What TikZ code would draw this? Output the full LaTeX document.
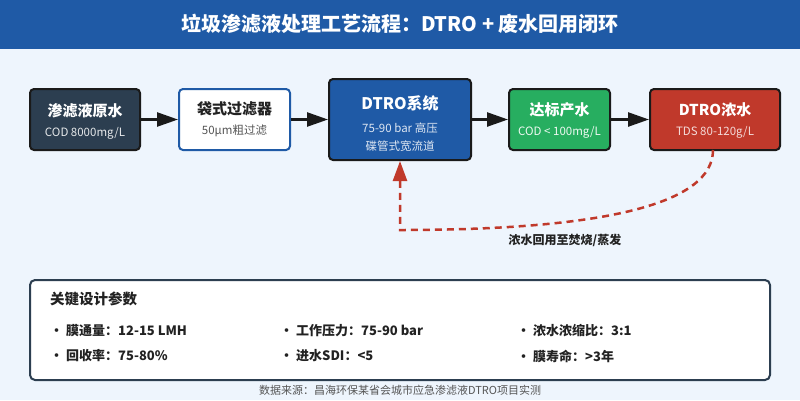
\documentclass[tikz,border=0pt]{standalone}
\usepackage{fontspec}
\setmainfont{Noto Sans CJK SC}
\usetikzlibrary{arrows.meta}
\definecolor{bg}{HTML}{EEF5FD}
\definecolor{titleblue}{HTML}{1F5AA6}
\definecolor{darknavy}{HTML}{2C3E50}
\definecolor{boxgreen}{HTML}{27AE60}
\definecolor{boxred}{HTML}{C0392B}
\definecolor{edge}{HTML}{1A1A1A}
\definecolor{txt}{HTML}{222222}
\definecolor{subgray}{HTML}{555555}
\tikzset{
  procbox/.style={draw=edge, line width=2pt, rounded corners=4pt, inner sep=0pt},
  boxtitle/.style={font=\bfseries\fontsize{15}{18}\selectfont, inner sep=0pt},
  boxsub/.style={font=\fontsize{11.5}{14}\selectfont, inner sep=0pt},
  flow/.style={draw=edge, line width=2.5pt, -{Triangle[length=21pt,width=14pt]}},
  ret/.style={draw=boxred, line width=2.5pt, dash pattern=on 7pt off 5pt, -{Triangle[length=20pt,width=14pt]}},
  param/.style={font=\bfseries\fontsize{13}{16}\selectfont, text=txt, anchor=west, inner sep=0pt}
}
\newcommand{\pbul}{・\hspace{3pt}}
\begin{document}
\begin{tikzpicture}[x=1pt,y=-1pt]
\useasboundingbox (0,0) rectangle (800,400);
\fill[bg] (0,0) rectangle (800,400);
\fill[titleblue] (0,0) rectangle (800,49);
\node[font=\bfseries\fontsize{20}{24}\selectfont, text=white, inner sep=0pt] (title) at (400,24) {垃圾渗滤液处理工艺流程：DTRO + 废水回用闭环};

% boxes
\node[procbox, fill=darknavy, minimum width=110pt, minimum height=61pt] (b1) at (85,119.5) {};
\node[procbox, draw=titleblue, fill=white, minimum width=111pt, minimum height=61pt] (b2) at (234.5,119.5) {};
\node[procbox, fill=titleblue, minimum width=142pt, minimum height=81pt] (b3) at (400,119.5) {};
\node[procbox, fill=boxgreen, minimum width=101pt, minimum height=61pt] (b4) at (559.5,119.5) {};
\node[procbox, fill=boxred, minimum width=130pt, minimum height=61pt] (b5) at (715,119.5) {};

% box texts
\node[boxtitle, text=white] (t1) at (85,111) {渗滤液原水};
\node[boxsub, text=white!88!darknavy] (s1) at (85,133) {COD 8000mg/L};
\node[boxtitle, text=txt] (t2) at (234.5,109) {袋式过滤器};
\node[boxsub, text=subgray] (s2) at (234.5,131) {50μm粗过滤};
\node[boxtitle, text=white, font=\bfseries\fontsize{16}{19}\selectfont] (t3) at (400,103) {DTRO系统};
\node[boxsub, text=white!85!titleblue] (s3a) at (400,128) {75-90 bar 高压};
\node[boxsub, text=white!85!titleblue] (s3b) at (400,146) {碟管式宽流道};
\node[boxtitle, text=white] (t4) at (559.5,110) {达标产水};
\node[boxsub, text=white!92!boxgreen] (s4) at (559.5,132) {COD < 100mg/L};
\node[boxtitle, text=white] (t5) at (715,110) {DTRO浓水};
\node[boxsub, text=white!82!boxred] (s5) at (715,132) {TDS 80-120g/L};

% flow arrows
\draw[flow] (b1.east) -- (b2.west);
\draw[flow] (b2.east) -- (b3.west);
\draw[flow] (b3.east) -- (b4.west);
\draw[flow] (b4.east) -- (b5.west);

% return loop
\coordinate (rs) at (713,150);
\coordinate (rc) at (400,230);
\draw[ret] (rs) .. controls (713,203) and (608,230) .. (rc) -- (b3.south);
\node[font=\bfseries\fontsize{12}{14}\selectfont, text=txt, inner sep=0pt] (rl) at (565,240) {浓水回用至焚烧/蒸发};

% parameter panel
\node[draw=darknavy, line width=2pt, fill=white, rounded corners=5pt, minimum width=740pt, minimum height=100pt, inner sep=0pt] (panel) at (400,330) {};
\node[font=\bfseries\fontsize{14.5}{17}\selectfont, text=txt, anchor=west, inner sep=0pt] (ph) at (50,299) {关键设计参数};
\node[param] (p1) at (50,331) {\pbul 膜通量：12-15 LMH};
\node[param] (p2) at (280,331) {\pbul 工作压力：75-90 bar};
\node[param] (p3) at (517,331) {\pbul 浓水浓缩比：3:1};
\node[param] (p4) at (50,356) {\pbul 回收率：75-80\%};
\node[param] (p5) at (280,356) {\pbul 进水SDI：<5};
\node[param] (p6) at (517,356) {\pbul 膜寿命：>3年};

\node[font=\fontsize{11}{13}\selectfont, text=subgray, inner sep=0pt] (src) at (400,390) {数据来源：昌海环保某省会城市应急渗滤液DTRO项目实测};
\end{tikzpicture}
\end{document}
